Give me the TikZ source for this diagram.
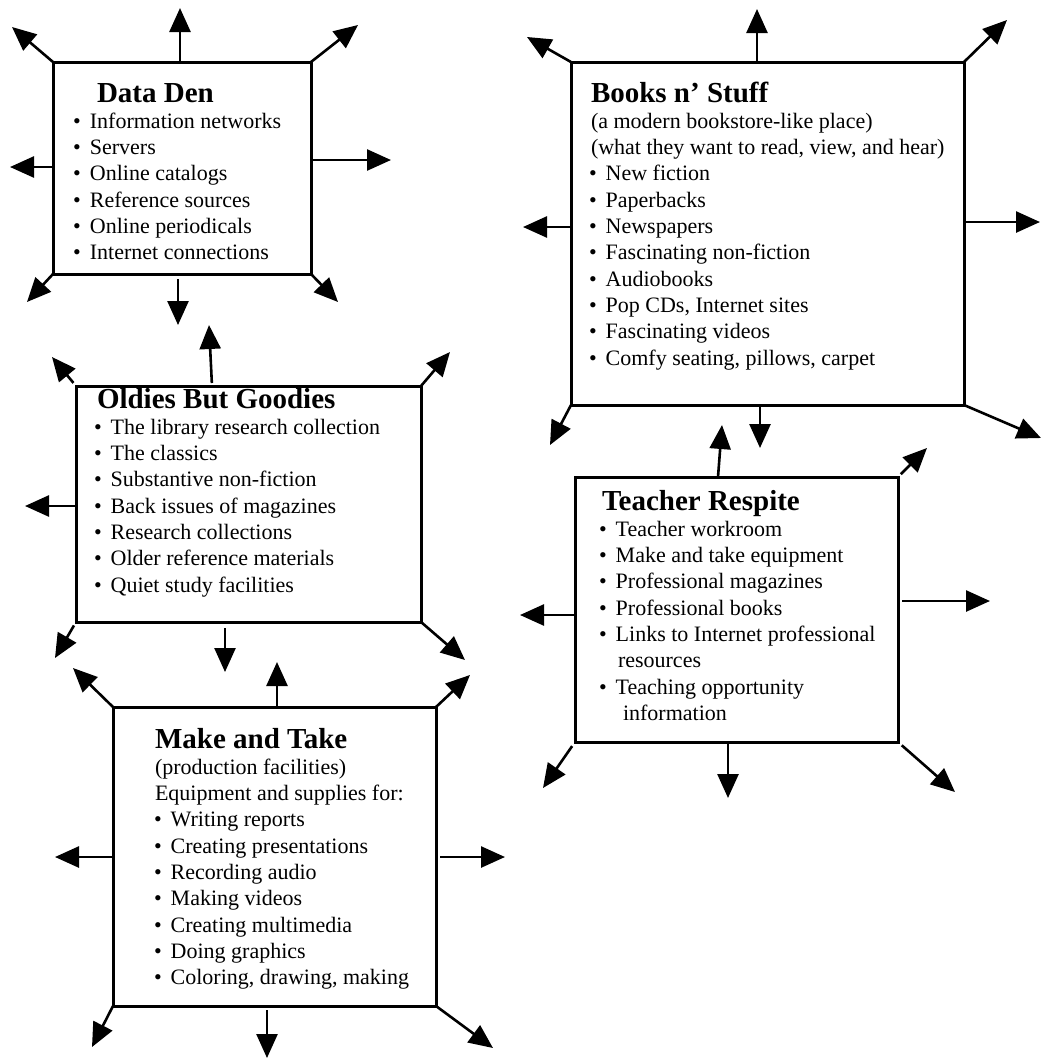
\documentclass[tikz,border=0pt]{standalone}
\usepackage{fontspec}
\setmainfont{Liberation Serif}
\usetikzlibrary{arrows.meta,calc}
\newcommand\ttl[2]{\hbox{\kern#1pt\fontsize{29}{30}\selectfont\bfseries #2}}
\newcommand\itm[1]{\hbox{\textbullet\kern9pt #1}}
\newcommand\pln[2]{\hbox{\kern#1pt #2}}
\tikzset{
 box/.style={draw, line width=3pt, rectangle, inner sep=0pt, outer sep=0pt, anchor=north west},
 arr/.style={line width=2.6pt, -{Triangle[length=24pt,width=21pt]}},
 txt/.style={anchor=base west, inner sep=0pt, outer sep=0pt},
}
\begin{document}
\begin{tikzpicture}[x=1pt,y=-1pt]
\useasboundingbox (0,0) rectangle (1043,1061);

% ---------- boxes ----------
\node[box, minimum width=258pt, minimum height=212pt] (dd) at (53,62) {};
\node[box, minimum width=393pt, minimum height=343pt] (bs) at (571,62) {};
\node[box, minimum width=345pt, minimum height=236pt] (og) at (76,386) {};
\node[box, minimum width=323pt, minimum height=299pt] (mt) at (113,707) {};
\node[box, minimum width=323pt, minimum height=265pt] (tr) at (575,477) {};

% ---------- texts ----------
\node[txt] (ddtext) at (73.2,102) {\vtop{\fontsize{22}{26.3}\selectfont
 \ttl{23.8}{Data Den}
 \itm{Information networks}
 \itm{Servers}
 \itm{Online catalogs}
 \itm{Reference sources}
 \itm{Online periodicals}
 \itm{Internet connections}}};

\node[txt] (bstext) at (589,102) {\vtop{\fontsize{22}{26.3}\selectfont
 \ttl{2}{Books n’ Stuff}
 \pln{2}{(a modern bookstore-like place)}
 \pln{2}{(what they want to read, view, and hear)}
 \itm{New fiction}
 \itm{Paperbacks}
 \itm{Newspapers}
 \itm{Fascinating non-fiction}
 \itm{Audiobooks}
 \itm{Pop CDs, Internet sites}
 \itm{Fascinating videos}
 \itm{Comfy seating, pillows, carpet}}};

\node[txt] (ogtext) at (94,408) {\vtop{\fontsize{22}{26.3}\selectfont
 \ttl{3}{Oldies But Goodies}
 \itm{The library research collection}
 \itm{The classics}
 \itm{Substantive non-fiction}
 \itm{Back issues of magazines}
 \itm{Research collections}
 \itm{Older reference materials}
 \itm{Quiet study facilities}}};

\node[txt] (trtext) at (599,510) {\vtop{\fontsize{22}{26.3}\selectfont
 \ttl{3}{Teacher Respite}
 \itm{Teacher workroom}
 \itm{Make and take equipment}
 \itm{Professional magazines}
 \itm{Professional books}
 \itm{Links to Internet professional}
 \pln{19}{resources}
 \itm{Teaching opportunity}
 \pln{24}{information}}};

\node[txt] (mttext) at (154,748) {\vtop{\fontsize{22}{26.3}\selectfont
 \ttl{1}{Make and Take}
 \pln{1}{(production facilities)}
 \pln{1}{Equipment and supplies for:}
 \itm{Writing reports}
 \itm{Creating presentations}
 \itm{Recording audio}
 \itm{Making videos}
 \itm{Creating multimedia}
 \itm{Doing graphics}
 \itm{Coloring, drawing, making}}};

% ---------- arrow ends ----------
\coordinate (ddT) at (180,8);
\coordinate (ddTL) at (12,27);
\coordinate (ddTR) at (358,25);
\coordinate (ddL) at (10,167);
\coordinate (ddR) at (391,160);
\coordinate (ddBL) at (27,302);
\coordinate (ddB) at (178,325);
\coordinate (ddBR) at (338,302);

\coordinate (bsT) at (757,9);
\coordinate (bsTL) at (527,37);
\coordinate (bsTR) at (1007,20);
\coordinate (bsL) at (523,227);
\coordinate (bsR) at (1040,222);
\coordinate (bsBL) at (550,445);
\coordinate (bsB) at (760,448);
\coordinate (bsBR) at (1041,438);

\coordinate (ogT) at (209,325);
\coordinate (ogTL) at (52,357);
\coordinate (ogTR) at (450,352);
\coordinate (ogL) at (25,506);
\coordinate (ogBL) at (55,658);
\coordinate (ogB) at (225,672);
\coordinate (ogBR) at (465,660);

\coordinate (mtT) at (277,662);
\coordinate (mtTL) at (73,668);
\coordinate (mtTR) at (470,675);
\coordinate (mtL) at (55,857);
\coordinate (mtR) at (505,857);
\coordinate (mtBL) at (92,1047);
\coordinate (mtB) at (267,1058);
\coordinate (mtBR) at (493,1048);

\coordinate (trT) at (722,425);
\coordinate (trTR) at (927,448);
\coordinate (trL) at (520,615);
\coordinate (trR) at (990,601);
\coordinate (trBL) at (543,788);
\coordinate (trB) at (728,798);
\coordinate (trBR) at (955,792);

% ---------- arrows: Data Den ----------
\draw[arr] (dd.north west -| ddT) -- (ddT);
\draw[arr] (dd.north west) -- (ddTL);
\draw[arr] (dd.north east) -- (ddTR);
\draw[arr] (dd.north west |- ddL) -- (ddL);
\draw[arr] (dd.north east |- ddR) -- (ddR);
\draw[arr] (dd.south west) -- (ddBL);
\draw[arr, shorten <=5pt] (dd.south west -| ddB) -- (ddB);
\draw[arr] (dd.south east) -- (ddBR);

% ---------- arrows: Books n' Stuff ----------
\draw[arr] (bs.north west -| bsT) -- (bsT);
\draw[arr] (bs.north west) -- (bsTL);
\draw[arr] (bs.north east) -- (bsTR);
\draw[arr] (bs.north west |- bsL) -- (bsL);
\draw[arr] (bs.north east |- bsR) -- (bsR);
\draw[arr] (bs.south west) -- (bsBL);
\draw[arr] (bs.south west -| bsB) -- (bsB);
\draw[arr] (bs.south east) -- (bsBR);

% ---------- arrows: Oldies But Goodies ----------
\draw[arr, shorten <=3pt] ($(og.north west)+(136,0)$) -- (ogT);
\draw[arr, shorten <=4pt] (og.north west) -- (ogTL);
\draw[arr] (og.north east) -- (ogTR);
\draw[arr] (og.north west |- ogL) -- (ogL);
\draw[arr, shorten <=4pt] (og.south west) -- (ogBL);
\draw[arr, shorten <=6pt] (og.south west -| ogB) -- (ogB);
\draw[arr] (og.south east) -- (ogBR);

% ---------- arrows: Make and Take ----------
\draw[arr] (mt.north west -| mtT) -- (mtT);
\draw[arr] (mt.north west) -- (mtTL);
\draw[arr] (mt.north east) -- (mtTR);
\draw[arr] (mt.north west |- mtL) -- (mtL);
\draw[arr, shorten <=4pt] (mt.north east |- mtR) -- (mtR);
\draw[arr] (mt.south west) -- (mtBL);
\draw[arr, shorten <=4pt] (mt.south west -| mtB) -- (mtB);
\draw[arr] (mt.south east) -- (mtBR);

% ---------- arrows: Teacher Respite ----------
\draw[arr] ($(tr.north west)+(143,0)$) -- (trT);
\draw[arr, shorten <=4pt] (tr.north east) -- (trTR);
\draw[arr] (tr.north west |- trL) -- (trL);
\draw[arr, shorten <=4pt] (tr.north east |- trR) -- (trR);
\draw[arr, shorten <=5pt] (tr.south west) -- (trBL);
\draw[arr] (tr.south west -| trB) -- (trB);
\draw[arr, shorten <=5pt] (tr.south east) -- (trBR);
\end{tikzpicture}
\end{document}
